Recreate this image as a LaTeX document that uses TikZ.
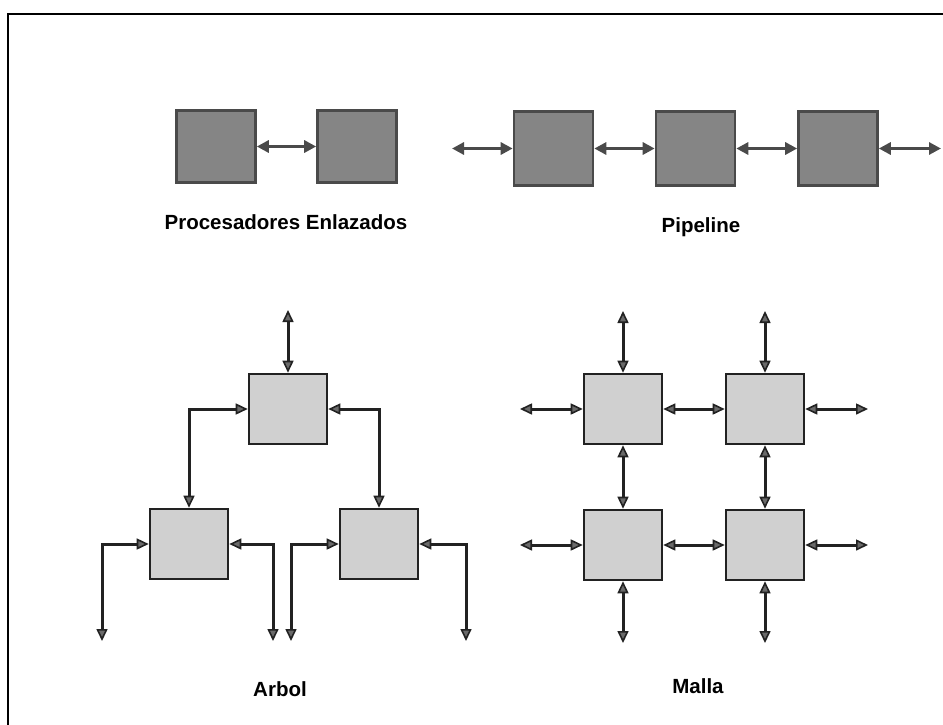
\documentclass[tikz,border=0pt]{standalone}
\usepackage{fontspec}
\setmainfont{Liberation Sans}
\usetikzlibrary{arrows.meta}
\definecolor{darkfill}{HTML}{858585}
\definecolor{darkedge}{HTML}{4A4A4A}
\definecolor{lightfill}{HTML}{D0D0D0}
\definecolor{lightedge}{HTML}{222222}
\definecolor{tipfill}{HTML}{6A6A6A}
\begin{document}
\begin{tikzpicture}[x=1pt,y=-1pt,
  darkproc/.style={draw=darkedge, line width=2.6pt, fill=darkfill,
    minimum width=79pt, minimum height=72pt, inner sep=0pt},
  lightproc/.style={draw=lightedge, line width=2.6pt, fill=lightfill,
    minimum width=78pt, minimum height=70pt, inner sep=0pt},
  darktip/.tip={Triangle[length=12pt,width=12pt]},
  lighttip/.tip={Triangle[length=12pt,width=11pt,line width=1.6pt,fill=tipfill]},
  darklink/.style={draw=darkedge, line width=3.6pt, darktip-darktip},
  lightlink/.style={draw=lightedge, line width=3pt, lighttip-lighttip},
  caption/.style={font=\bfseries\fontsize{20.5}{24}\selectfont,
    anchor=base, inner sep=0pt}]

% page and frame
\fill[white] (0,0) rectangle (943,724);
\useasboundingbox (0,0) rectangle (943,724);
\coordinate (frameTL) at (8,14);
\coordinate (frameTR) at (943,14);
\coordinate (frameBL) at (8,724);
\draw[line width=2.4pt, line cap=rect] (frameBL) -- (frameTL) -- (frameTR);

% linked processors
\node[darkproc] (pe1) at (216,146.5) {};
\node[darkproc] (pe2) at (357,146.5) {};
\draw[darklink] (pe1.east) -- (pe2.west);
\node[caption] (cap1) at (286,229) {Procesadores Enlazados};

% pipeline
\node[darkproc, minimum height=74pt] (pp1) at (553.5,148.5) {};
\node[darkproc, minimum height=74pt] (pp2) at (695.5,148.5) {};
\node[darkproc, minimum height=74pt] (pp3) at (838,148.5) {};
\coordinate (ppin) at (452,148.5);
\coordinate (ppout) at (941,148.5);
\draw[darklink] (ppin) -- (pp1.west);
\draw[darklink] (pp1.east) -- (pp2.west);
\draw[darklink] (pp2.east) -- (pp3.west);
\draw[darklink] (pp3.east) -- (ppout);
\node[caption] (cap2) at (701,232) {Pipeline};

% tree
\node[lightproc] (root) at (288,409) {};
\node[lightproc] (leftk) at (189,544) {};
\node[lightproc] (rightk) at (379,544) {};
\coordinate (rootup) at (288,310);
\draw[lightlink] (rootup) -- (root.north);
\draw[lightlink] (root.west) -| (leftk.north);
\draw[lightlink] (root.east) -| (rightk.north);
\coordinate (ll) at (102,641);
\coordinate (lr) at (273,641);
\coordinate (rl) at (291,641);
\coordinate (rr) at (466,641);
\draw[lightlink] (ll) |- (leftk.west);
\draw[lightlink] (lr) |- (leftk.east);
\draw[lightlink] (rl) |- (rightk.west);
\draw[lightlink] (rr) |- (rightk.east);
\node[caption] (cap3) at (280,696) {Arbol};

% mesh
\node[lightproc] (m11) at (623,409) {};
\node[lightproc] (m12) at (765,409) {};
\node[lightproc] (m21) at (623,545) {};
\node[lightproc] (m22) at (765,545) {};
\coordinate (n1) at (623,311);
\coordinate (n2) at (765,311);
\coordinate (s1) at (623,643);
\coordinate (s2) at (765,643);
\coordinate (w1) at (520,409);
\coordinate (w2) at (520,545);
\coordinate (e1) at (868,409);
\coordinate (e2) at (868,545);
\draw[lightlink] (n1) -- (m11.north);
\draw[lightlink] (n2) -- (m12.north);
\draw[lightlink] (m21.south) -- (s1);
\draw[lightlink] (m22.south) -- (s2);
\draw[lightlink] (w1) -- (m11.west);
\draw[lightlink] (w2) -- (m21.west);
\draw[lightlink] (m12.east) -- (e1);
\draw[lightlink] (m22.east) -- (e2);
\draw[lightlink] (m11.east) -- (m12.west);
\draw[lightlink] (m21.east) -- (m22.west);
\draw[lightlink] (m11.south) -- (m21.north);
\draw[lightlink] (m12.south) -- (m22.north);
\node[caption] (cap4) at (698,693) {Malla};
\end{tikzpicture}
\end{document}
